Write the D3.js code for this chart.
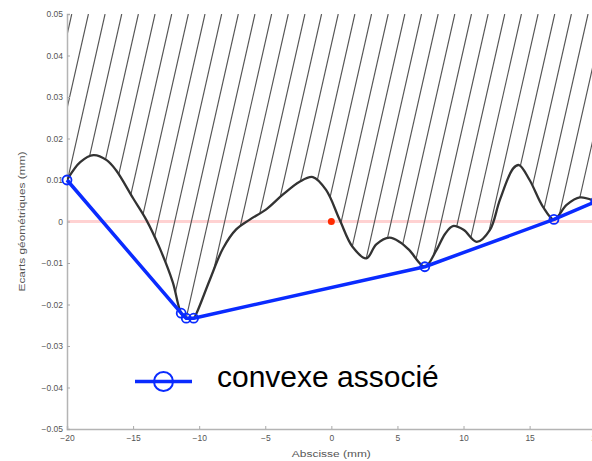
<!DOCTYPE html>
<html>
<head>
<meta charset="utf-8">
<script src="https://cdn.jsdelivr.net/npm/d3@7"></script>
<style>
  body { margin: 0; background: #fff; }
  svg { display: block; font-family: "Liberation Sans", Arial, sans-serif; }
</style>
</head>
<body>
<div id="chart"></div>
<script>
// profile (abscissa in mm, deviation in mm)
const profX = [-20, -19, -18, -17, -16.3, -15, -14, -13, -12, -11.36, -10.98, -10.42, -10.2, -9.2, -8.2, -7.2, -6.2, -4.9, -3.7, -2.4, -1.4, -0.4, 0.63, 1.6, 2.65, 3.4, 4.4, 5.2, 5.9, 7.07, 7.95, 8.6, 9.2, 10.0, 11.0, 12.0, 12.75, 13.76, 14.2, 15.0, 16.0, 16.84, 17.8, 18.8, 20];
const profY = [0.010, 0.0143, 0.016, 0.0148, 0.0124, 0.0056, 0.0004, -0.0063, -0.0146, -0.0221, -0.0233, -0.0233, -0.0221, -0.0141, -0.0065, -0.0019, 0.0004, 0.0030, 0.0064, 0.0096, 0.0107, 0.0076, 0.0004, -0.0061, -0.0089, -0.0055, -0.0039, -0.0050, -0.0069, -0.0109, -0.0069, -0.0030, -0.0011, -0.0020, -0.0049, -0.0020, 0.0052, 0.0128, 0.0136, 0.0100, 0.0036, 0.0005, 0.0040, 0.0058, 0.0048];

// associated convex hull
const hullX = [-20, -11.36, -10.98, -10.42, 7.07, 16.84, 20];
const hullY = [0.010, -0.0221, -0.0233, -0.0233, -0.0109, 0.0005, 0.0048];

const xTicks = [-20, -15, -10, -5, 0, 5, 10, 15, 20];
const yTicks = [-0.05, -0.04, -0.03, -0.02, -0.01, 0, 0.01, 0.02, 0.03, 0.04, 0.05];

const legendLabel = "convexe associé";
const xTitle = "Abscisse (mm)";
const yTitle = "Ecarts géométriques (mm)";

const W = 592, H = 461;
const blue = "#0a2bff";

const svg = d3.select("#chart").append("svg")
    .attr("width", W)
    .attr("height", H);

const x = d3.scaleLinear().domain([-20, 20]).range([67, 595.7]);
const y = d3.scaleLinear().domain([-0.05, 0.05]).range([429, 14]);

const prof = profX.map((d, i) => [d, profY[i]]);
const hull = hullX.map((d, i) => [d, hullY[i]]);

// clip region: above the profile, up to the top of the axes
const area = d3.area()
    .x(d => x(d[0]))
    .y0(y(0.05))
    .y1(d => y(d[1]))
    .curve(d3.curveCatmullRom);

const defs = svg.append("defs");
defs.append("clipPath").attr("id", "above")
    .append("path").attr("d", area(prof));
defs.append("clipPath").attr("id", "plot")
    .append("rect")
    .attr("x", x(-20)).attr("y", y(0.05))
    .attr("width", x(20) - x(-20)).attr("height", y(-0.05) - y(0.05));

// zero reference line
svg.append("line")
    .attr("x1", x(-20)).attr("x2", x(20))
    .attr("y1", y(0)).attr("y2", y(0))
    .attr("stroke", "#ffd2d2")
    .attr("stroke-width", 3);

// hatching above the profile
const hatchStep = 1.26, hatchRun = 7.1;
const starts = d3.range(9.34 - hatchStep * 30, 25, hatchStep);
svg.append("g")
    .attr("clip-path", "url(#above)")
    .selectAll("line")
    .data(starts)
    .enter().append("line")
    .attr("x1", d => x(d - hatchRun)).attr("y1", y(-0.05))
    .attr("x2", d => x(d)).attr("y2", y(0.05))
    .attr("stroke", "#555")
    .attr("stroke-width", 1.15);

// axes
const fmtY = d => Math.abs(d) < 1e-9 ? "0" : d3.format(".2f")(d);
const gx = svg.append("g")
    .attr("transform", `translate(0,${y(-0.05)})`)
    .call(d3.axisBottom(x).tickValues(xTicks).tickSize(-3).tickPadding(6).tickFormat(d3.format("d")));
const gy = svg.append("g")
    .attr("transform", `translate(${x(-20)},0)`)
    .call(d3.axisLeft(y).tickValues(yTicks).tickSize(-3).tickPadding(4).tickFormat(fmtY));
[gx, gy].forEach(g => {
    g.select(".domain").attr("stroke", "#b4b4b4").attr("stroke-width", 1.5);
    g.selectAll(".tick line").attr("stroke", "#aaa");
    g.selectAll(".tick text").attr("fill", "#555").style("font-size", "8.5px");
});

// profile curve
svg.append("path")
    .datum(prof)
    .attr("clip-path", "url(#plot)")
    .attr("fill", "none")
    .attr("stroke", "#333")
    .attr("stroke-width", 2.3)
    .attr("d", d3.line().x(d => x(d[0])).y(d => y(d[1])).curve(d3.curveCatmullRom));

// origin marker
svg.append("circle")
    .attr("cx", x(0)).attr("cy", y(0)).attr("r", 3.5)
    .attr("fill", "#ff2a00");

// convex hull
svg.append("path")
    .datum(hull)
    .attr("fill", "none")
    .attr("stroke", blue)
    .attr("stroke-width", 3.5)
    .attr("stroke-linejoin", "round")
    .attr("d", d3.line().x(d => x(d[0])).y(d => y(d[1])));
svg.selectAll(".hullpt")
    .data(hull)
    .enter().append("circle")
    .attr("class", "hullpt")
    .attr("cx", d => x(d[0])).attr("cy", d => y(d[1]))
    .attr("r", 4.5)
    .attr("fill", "none")
    .attr("stroke", blue)
    .attr("stroke-width", 1.8);

// axis titles
svg.append("text")
    .attr("x", x(0)).attr("y", 457)
    .attr("text-anchor", "middle")
    .attr("fill", "#555")
    .attr("font-size", 8.5)
    .attr("textLength", 79).attr("lengthAdjust", "spacingAndGlyphs")
    .text(xTitle);
svg.append("text")
    .attr("transform", `translate(25,${y(0)}) rotate(-90)`)
    .attr("text-anchor", "middle")
    .attr("fill", "#555")
    .attr("font-size", 9)
    .attr("textLength", 140).attr("lengthAdjust", "spacingAndGlyphs")
    .text(yTitle);

// legend
const lg = svg.append("g").attr("transform", "translate(135,381.5)");
lg.append("line").attr("x1", 0).attr("x2", 57)
    .attr("stroke", blue).attr("stroke-width", 3.5);
lg.append("circle").attr("cx", 28.5).attr("r", 9.5)
    .attr("fill", "none").attr("stroke", blue).attr("stroke-width", 2);
lg.append("text").attr("x", 82).attr("y", 5.5)
    .attr("fill", "#000")
    .attr("font-size", 30)
    .text(legendLabel);
</script>
</body>
</html>
